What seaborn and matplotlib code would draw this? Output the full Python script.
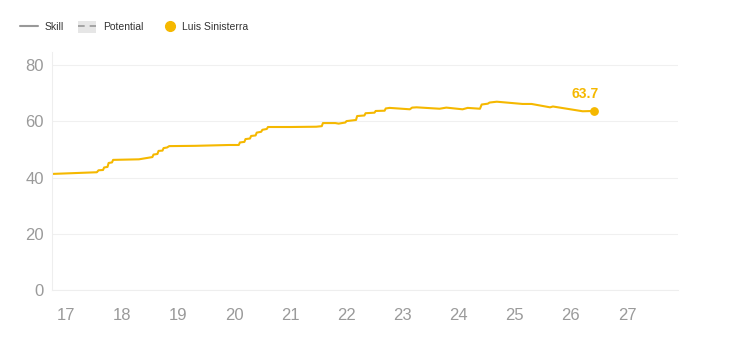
import matplotlib.pyplot as plt
import pandas as pd
import seaborn as sns
from matplotlib.lines import Line2D
from matplotlib.patches import Patch
from matplotlib.legend_handler import HandlerTuple

# Skill rating over age
ages = [16.75, 17.55, 17.58, 17.66, 17.68, 17.74, 17.76, 17.82, 17.84, 18.3, 18.54, 18.56,
        18.63, 18.65, 18.72, 18.74, 18.8, 18.84, 19.3, 19.91, 20.08, 20.1, 20.18, 20.2,
        20.28, 20.3, 20.38, 20.4, 20.48, 20.5, 20.58, 20.6, 21.0, 21.46, 21.56, 21.58,
        21.8, 21.86, 21.98, 22.0, 22.17, 22.19, 22.32, 22.34, 22.5, 22.52, 22.68, 22.7,
        22.77, 23.13, 23.17, 23.25, 23.66, 23.78, 24.07, 24.16, 24.38, 24.41, 24.52, 24.55,
        24.68, 25.14, 25.3, 25.63, 25.68, 26.21, 26.41]
skill = [41.3, 41.9, 42.6, 42.7, 43.6, 43.8, 45.2, 45.4, 46.3, 46.5, 47.3, 48.2,
         48.4, 49.5, 49.6, 50.5, 50.7, 51.2, 51.3, 51.6, 51.6, 52.5, 52.7, 53.7,
         53.9, 54.8, 55.0, 56.0, 56.3, 57.0, 57.3, 58.0, 58.0, 58.1, 58.3, 59.4,
         59.4, 59.2, 59.6, 60.1, 60.5, 61.9, 62.1, 62.9, 63.1, 63.7, 63.8, 64.6,
         64.8, 64.3, 64.9, 65.0, 64.5, 64.9, 64.3, 64.8, 64.5, 66.0, 66.3, 66.7,
         67.0, 66.2, 66.2, 65.0, 65.3, 63.6, 63.7]
player = "Luis Sinisterra"
x_ticks = list(range(17, 28))
y_ticks = [0, 20, 40, 60, 80]

orange = "#F5B800"
grey = "#9a9a9a"

df = pd.DataFrame({"Age": ages, "Skill": skill})

sns.set_style("white")
plt.rcParams["font.family"] = ["Liberation Sans", "DejaVu Sans"]

fig = plt.figure(figsize=(7.5, 3.43), dpi=100)
ax = fig.add_axes([0.0693, 0.1545, 0.8347, 0.694])

sns.lineplot(data=df, x="Age", y="Skill", ax=ax, color=orange, linewidth=1.5)
last_x, last_y = ages[-1], skill[-1]
ax.scatter([last_x], [last_y], color=orange, s=28, zorder=5)
ax.annotate(f"{last_y:.1f}", (last_x, last_y), xytext=(-6, 7), textcoords="offset points",
            ha="center", va="bottom", color=orange, fontsize=10, fontweight="bold")

ax.set_xlim(16.75, 27.91)
ax.set_ylim(0, 84.7)
ax.set_xticks(x_ticks)
ax.set_yticks(y_ticks)
ax.yaxis.grid(True, color="#f0f0f0", linewidth=0.8)
ax.tick_params(axis="both", colors=grey, labelsize=12, labelcolor=grey)
ax.tick_params(axis="x", length=6, color="#eeeeee", pad=7)
ax.tick_params(axis="y", length=0, pad=6)
for s in ["top", "right"]:
    ax.spines[s].set_visible(False)
for s in ["left", "bottom"]:
    ax.spines[s].set_color("#eeeeee")
    ax.spines[s].set_linewidth(0.8)
ax.set_xlabel("")
ax.set_ylabel("")

# legend at the top: line styles, then the player
h_skill = Line2D([], [], color="#999999", linewidth=1.5)
h_pot = (Patch(facecolor="#e6e6e6", edgecolor="none"),
         Line2D([], [], color="#999999", linewidth=1.2, linestyle=(0, (4, 3))))
leg1 = fig.legend([h_skill, h_pot], ["Skill", "Potential"],
                  handler_map={tuple: HandlerTuple(ndivide=1, pad=0)},
                  loc="center left", bbox_to_anchor=(20 / 750, 1 - 27 / 343), ncol=2,
                  frameon=False, fontsize=7.5, handlelength=1.75, handleheight=1.5,
                  handletextpad=0.65, columnspacing=1.3, borderpad=0, borderaxespad=0,
                  labelcolor="#333333")
h_player = Line2D([], [], color=orange, marker="o", linestyle="none", markersize=7)
fig.legend([h_player], [player], loc="center left",
           bbox_to_anchor=(163 / 750, 1 - 27 / 343), frameon=False, fontsize=7.5,
           handlelength=1.3, handletextpad=0.5, borderpad=0, borderaxespad=0,
           labelcolor="#333333")

fig.savefig("out.png", dpi=100)
